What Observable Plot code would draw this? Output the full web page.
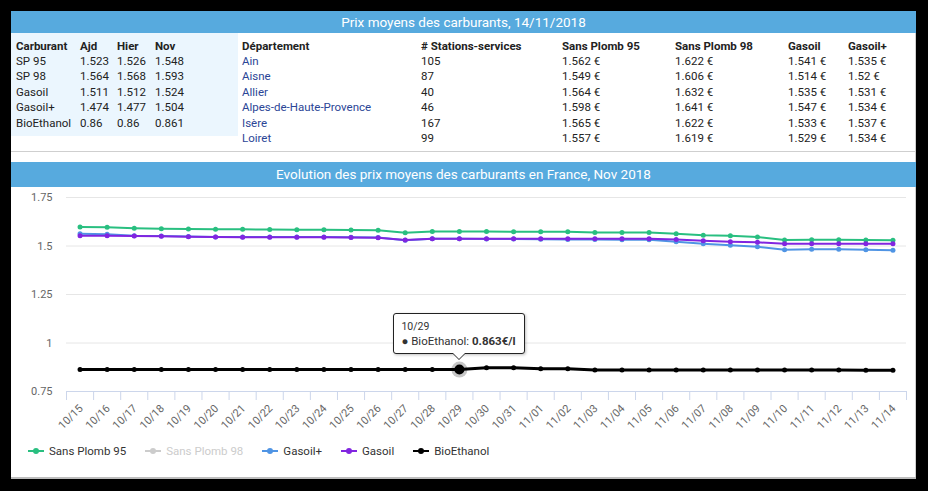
<!DOCTYPE html>
<html><head><meta charset="utf-8">
<script src="https://cdn.jsdelivr.net/npm/d3@7"></script>
<script src="https://cdn.jsdelivr.net/npm/@observablehq/plot@0.6"></script>
<style>
body{margin:0;background:#000;}
#page{position:relative;width:928px;height:491px;background:#000;overflow:hidden;font-family:Roboto,"Noto Sans",sans-serif;color:#222;}
.abs{position:absolute;}
.white{left:11px;top:11px;width:904px;height:466px;background:#fff;border-right:1px solid #cfcfcf;}
.hdr{left:11px;width:905px;background:#57aade;color:#fff;font-size:13.5px;text-align:center;}
.cell{position:absolute;font-size:11.5px;line-height:15px;white-space:nowrap;color:#222;}
.cell.h{font-weight:bold;}
.cell.dep{color:#2b4596;}
#legend{position:absolute;left:28px;top:443px;height:16px;display:flex;align-items:center;font-size:11.5px;color:#333;}
#legend .item{display:flex;align-items:center;margin-right:19px;}
#legend svg{margin-right:5px;}
#tip{position:absolute;background:#fff;border:1px solid #222;border-radius:3px;box-shadow:1px 1px 3px rgba(0,0,0,0.25);font-size:11.5px;color:#333;padding:6px 8px 4px 7px;box-sizing:border-box;white-space:nowrap;}
#tip .d{font-size:10.5px;line-height:14px;}
#tip .l{line-height:15px;}
#tip:after,#tip:before{content:"";position:absolute;left:50%;border:solid transparent;}
#tip:before{top:100%;margin-left:-7px;border-width:7px;border-top-color:#222;}
#tip:after{top:100%;margin-left:-6px;border-width:6px;border-top-color:#fff;}
</style>
</head>
<body>
<div id="page">
  <div class="abs white"></div>
  <div class="abs hdr" id="hdr1" style="top:11px;height:22px;line-height:22px;"></div>
  <div class="abs" style="left:11px;top:33px;width:227px;height:103px;background:#ebf6fe;"></div>
  <div class="abs" style="left:11px;top:151px;width:905px;height:1px;background:#cfcfcf;"></div>
  <div class="abs hdr" id="hdr2" style="top:162px;height:25px;line-height:25px;"></div>
  <div class="abs" style="left:11px;top:477px;width:905px;height:2px;background:#bdbdbd;"></div>
  <div id="tables"></div>
  <div id="chart" class="abs" style="left:11px;top:187px;"></div>
  <div id="legend"></div>
  <div id="tip"></div>
</div>
<script>
// ---------- Data ----------
const title1 = "Prix moyens des carburants, 14/11/2018";
const title2 = "Evolution des prix moyens des carburants en France, Nov 2018";

const leftHeaders = ["Carburant", "Ajd", "Hier", "Nov"];
const carburants = ["SP 95", "SP 98", "Gasoil", "Gasoil+", "BioEthanol"];
const ajd = [1.523, 1.564, 1.511, 1.474, 0.86];
const hier = [1.526, 1.568, 1.512, 1.477, 0.86];
const nov = [1.548, 1.593, 1.524, 1.504, 0.861];

const rightHeaders = ["Département", "# Stations-services", "Sans Plomb 95", "Sans Plomb 98", "Gasoil", "Gasoil+"];
const departements = ["Ain", "Aisne", "Allier", "Alpes-de-Haute-Provence", "Isère", "Loiret"];
const stations = [105, 87, 40, 46, 167, 99];
const depSP95 = [1.562, 1.549, 1.564, 1.598, 1.565, 1.557];
const depSP98 = [1.622, 1.606, 1.632, 1.641, 1.622, 1.619];
const depGasoil = [1.541, 1.514, 1.535, 1.547, 1.533, 1.529];
const depGasoilPlus = [1.535, 1.52, 1.531, 1.534, 1.537, 1.534];

const dates = ["10/15","10/16","10/17","10/18","10/19","10/20","10/21","10/22","10/23","10/24","10/25","10/26","10/27","10/28","10/29","10/30","10/31",
               "11/01","11/02","11/03","11/04","11/05","11/06","11/07","11/08","11/09","11/10","11/11","11/12","11/13","11/14"];
const sp95 = [1.598,1.597,1.592,1.589,1.587,1.586,1.586,1.585,1.584,1.584,1.582,1.581,1.568,1.575,1.575,1.575,1.573,
              1.573,1.573,1.570,1.569,1.569,1.563,1.556,1.553,1.546,1.531,1.532,1.532,1.531,1.529];
const gasoilPlus = [1.563,1.561,1.553,1.551,1.549,1.547,1.546,1.546,1.546,1.546,1.545,1.544,1.530,1.537,1.537,1.536,1.536,
              1.535,1.534,1.533,1.532,1.532,1.522,1.512,1.504,1.496,1.481,1.483,1.483,1.481,1.478];
const gasoil = [1.553,1.553,1.551,1.550,1.548,1.546,1.545,1.545,1.545,1.545,1.544,1.543,1.531,1.537,1.537,1.537,1.538,
              1.538,1.538,1.538,1.538,1.538,1.534,1.527,1.522,1.519,1.512,1.512,1.512,1.512,1.511];
const bioEthanol = [0.863,0.863,0.863,0.863,0.863,0.863,0.863,0.863,0.863,0.863,0.863,0.863,0.863,0.863,0.863,0.873,0.873,
              0.867,0.867,0.861,0.861,0.861,0.861,0.861,0.861,0.861,0.861,0.861,0.861,0.86,0.86];

const legendNames = ["Sans Plomb 95", "Sans Plomb 98", "Gasoil+", "Gasoil", "BioEthanol"];
const legendColors = ["#29bf80", "#cccccc", "#4f94e4", "#8125e0", "#000000"];
const yTicks = [0.75, 1, 1.25, 1.5, 1.75];
const tipIndex = 14; // 10/29
const tipUnit = "€/l";

// ---------- Headers ----------
document.getElementById("hdr1").textContent = title1;
document.getElementById("hdr2").textContent = title2;

// ---------- Tables ----------
const tables = document.getElementById("tables");
function cell(text, x, yc, cls) {
  const d = document.createElement("div");
  d.className = "cell" + (cls ? " " + cls : "");
  d.style.left = x + "px";
  d.style.top = (yc - 7.5) + "px";
  d.textContent = text;
  tables.appendChild(d);
}
const rowY = k => 46 + k * 15.4;
const leftX = [16, 80, 117, 155];
leftHeaders.forEach((h, j) => cell(h, leftX[j], rowY(0), "h"));
carburants.forEach((c, k) => {
  cell(c, leftX[0], rowY(k + 1));
  cell(String(ajd[k]), leftX[1], rowY(k + 1));
  cell(String(hier[k]), leftX[2], rowY(k + 1));
  cell(String(nov[k]), leftX[3], rowY(k + 1));
});
const rightX = [242, 421, 562, 675, 788, 848];
rightHeaders.forEach((h, j) => cell(h, rightX[j], rowY(0), "h"));
departements.forEach((dname, k) => {
  cell(dname, rightX[0], rowY(k + 1), "dep");
  cell(String(stations[k]), rightX[1], rowY(k + 1));
  cell(depSP95[k] + " €", rightX[2], rowY(k + 1));
  cell(depSP98[k] + " €", rightX[3], rowY(k + 1));
  cell(depGasoil[k] + " €", rightX[4], rowY(k + 1));
  cell(depGasoilPlus[k] + " €", rightX[5], rowY(k + 1));
});

// ---------- Chart ----------
const idx = d3.range(dates.length);
const toRows = vals => vals.map((v, i) => ({i, v}));
const seriesDrawn = [
  {vals: sp95, color: legendColors[0]},
  {vals: gasoilPlus, color: legendColors[2]},
  {vals: gasoil, color: legendColors[3]},
  {vals: bioEthanol, color: legendColors[4], w: 3}
];
const boundaries = d3.range(dates.length + 1).map(k => k - 0.5);
const yMin = yTicks[0];

const marks = [
  Plot.ruleY(yTicks.slice(1), {stroke: "#e6e6e6", strokeWidth: 1}),
  Plot.ruleY([yMin], {stroke: "#ccd6eb", strokeWidth: 1}),
  Plot.ruleX(boundaries, {x: d => d, y1: yMin, y2: yMin, insetBottom: -9, stroke: "#ccd6eb"}),
  Plot.text(idx, {x: d => d, y: yMin, text: d => dates[d], rotate: -45, textAnchor: "end", dx: 1, dy: 15, fontSize: 11, fill: "#666"})
];
for (const s of seriesDrawn) {
  const rows = toRows(s.vals);
  marks.push(Plot.line(rows, {x: "i", y: "v", stroke: s.color, strokeWidth: s.w || 2}));
  marks.push(Plot.dot(rows, {x: "i", y: "v", fill: s.color, r: 2.5, stroke: "none"}));
}
const tipRow = [{i: tipIndex, v: bioEthanol[tipIndex]}];
marks.push(Plot.dot(tipRow, {x: "i", y: "v", r: 8, fill: "#000", fillOpacity: 0.22, stroke: "none"}));
marks.push(Plot.dot(tipRow, {x: "i", y: "v", r: 5, fill: "#000", stroke: "none"}));

const chart = Plot.plot({
  width: 905, height: 240,
  marginTop: 10, marginBottom: 36, marginLeft: 55, marginRight: 10,
  style: {fontFamily: "Roboto, sans-serif", fontSize: "11px", color: "#666", background: "transparent", overflow: "visible"},
  x: {type: "linear", domain: [-0.5, dates.length - 0.5], axis: null},
  y: {domain: [yTicks[0], yTicks[yTicks.length - 1]], ticks: yTicks, tickFormat: d => String(d), tickSize: 0, tickPadding: 14, label: null},
  marks
});
document.getElementById("chart").appendChild(chart);

// ---------- Tooltip ----------
const tip = document.getElementById("tip");
tip.innerHTML = `<div class="d">${dates[tipIndex]}</div><div class="l">● BioEthanol: <b>${bioEthanol[tipIndex]}${tipUnit}</b></div>`;
const px = 11 + chart.scale("x").apply(tipIndex);
const py = 187 + chart.scale("y").apply(bioEthanol[tipIndex]);
const tw = tip.offsetWidth, th = tip.offsetHeight;
tip.style.left = (px - tw / 2) + "px";
tip.style.top = (py - 15 - th) + "px";

// ---------- Legend ----------
const legend = document.getElementById("legend");
legendNames.forEach((n, k) => {
  const it = document.createElement("div");
  it.className = "item";
  it.innerHTML = `<svg width="16" height="10"><line x1="0" x2="16" y1="5" y2="5" stroke="${legendColors[k]}" stroke-width="2"/><circle cx="8" cy="5" r="3" fill="${legendColors[k]}"/></svg><span style="color:${k === 1 ? "#cccccc" : "#333"}">${n}</span>`;
  legend.appendChild(it);
});
</script>
</body></html>
